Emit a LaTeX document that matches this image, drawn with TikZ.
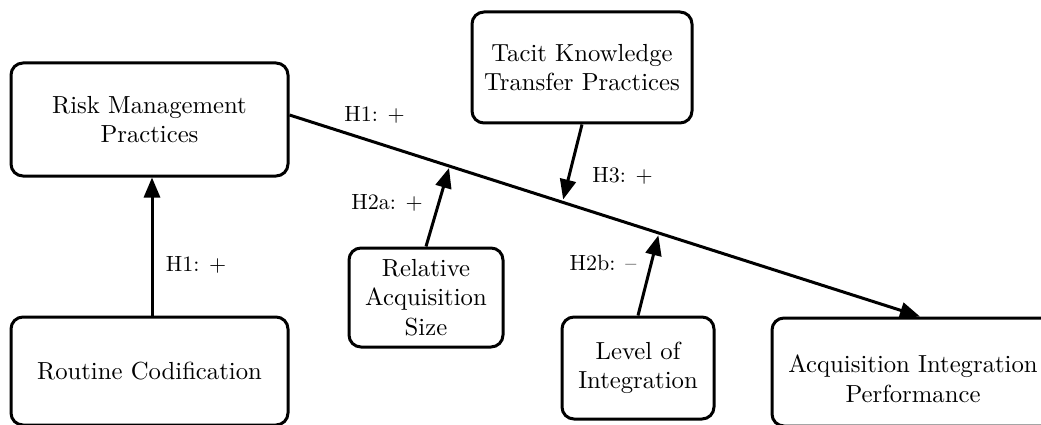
\documentclass[tikz,border=0pt]{standalone}
\usepackage{fontspec}
\setmainfont{lmroman10-regular.otf}
\usetikzlibrary{arrows.meta}
\begin{document}
\begin{tikzpicture}[x=1pt,y=-1pt,
 box/.style={draw, line width=3pt, rounded corners=12pt, align=center, inner sep=0pt, font=\fontsize{24.7}{29.5}\selectfont},
 boxtext/.style={align=center, inner sep=0pt, font=\fontsize{24.7}{29.5}\selectfont},
 lbl/.style={font=\fontsize{22}{26}\selectfont, inner sep=0pt},
 arr/.style={line width=3pt, -{Triangle[length=20pt,width=16pt]}},
]
\useasboundingbox (0,0) rectangle (1041,425);
\clip (0,0) rectangle (1041,425);

\node[box, minimum width=277pt, minimum height=113pt] (rm) at (149.5,119.5) {Risk Management\\Practices};
\node[box, minimum width=220pt, minimum height=111pt] (tacit) at (582,67.5) {Tacit Knowledge\\Transfer Practices};
\node[box, minimum width=154pt, minimum height=99pt] (rel) at (426,297.5) {Relative\\Acquisition\\Size};
\node[box, minimum width=277pt, minimum height=108pt] (rc) at (149.5,371) {Routine Codification};
\node[box, minimum width=152pt, minimum height=102pt] (level) at (638,368) {Level of\\Integration};
\node[box, minimum width=282pt, minimum height=108pt] (aip) at (913,372) {};
\node[boxtext] (aipt) at (913,379) {Acquisition Integration\\Performance};

\draw[arr] ([yshift=4.5pt]rm.east) -- ([xshift=7pt]aip.north);
\path ([yshift=4.5pt]rm.east) -- ([xshift=7pt]aip.north)
  coordinate[pos=0.253] (m2a) coordinate[pos=0.434] (m3) coordinate[pos=0.585] (m2b);

\draw[arr] ([xshift=2.5pt]rc.north) -- ([xshift=2.5pt]rm.south);
\draw[arr] (rel.north) -- ([yshift=-2pt]m2a);
\draw[arr] (tacit.south) -- ([yshift=3pt]m3);
\draw[arr] (level.north) -- ([yshift=-2.5pt]m2b);

\node[lbl] (l1) at (374.5,115) {H1: +};
\node[lbl] (l1b) at (196,265) {H1: +};
\node[lbl] (l2a) at (387,203) {H2a: +};
\node[lbl] (l3) at (622.5,176) {H3: +};
\node[lbl] (l2b) at (603,263) {H2b: --};
\end{tikzpicture}
\end{document}
